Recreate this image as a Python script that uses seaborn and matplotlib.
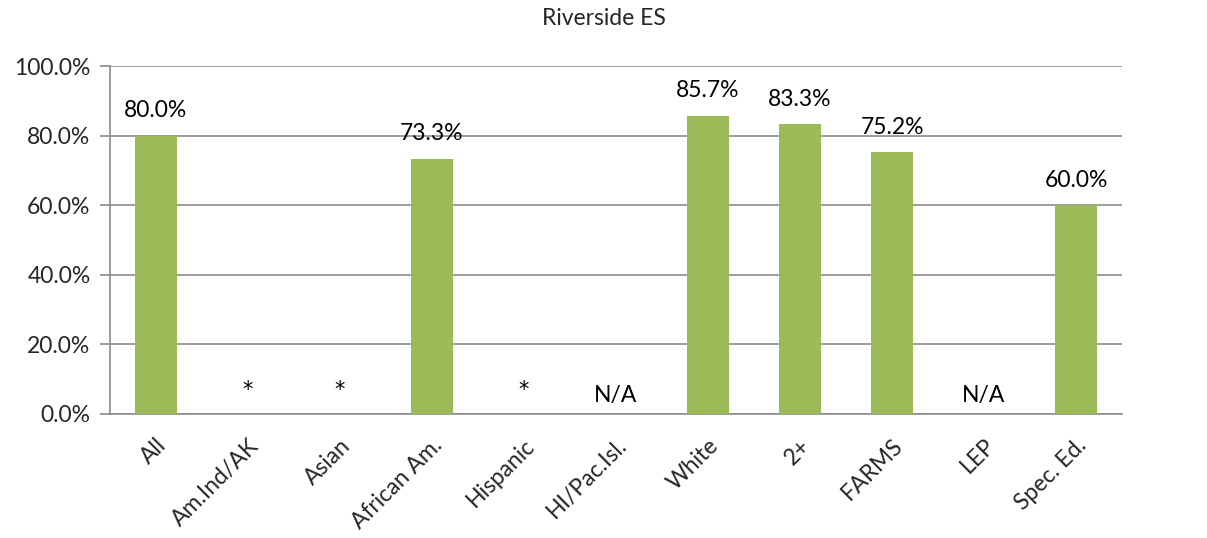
import numpy as np
import pandas as pd
import matplotlib
matplotlib.use('Agg')
import matplotlib.pyplot as plt
import seaborn as sns

# Chart data
categories = ['All', 'Am.Ind/AK', 'Asian', 'African Am.', 'Hispanic', 'HI/Pac.Isl.',
              'White', '2+', 'FARMS', 'LEP', 'Spec. Ed.']
values = [80.0, np.nan, np.nan, 73.3, np.nan, np.nan, 85.7, 83.3, 75.2, np.nan, 60.0]
labels = ['80.0%', '*', '*', '73.3%', '*', 'N/A', '85.7%', '83.3%', '75.2%', 'N/A', '60.0%']
yticks = [0, 20, 40, 60, 80, 100]

df = pd.DataFrame({'Group': categories, 'Rate': values})

sns.set_style('white')
plt.rcParams['font.family'] = ['Lato', 'DejaVu Sans']
fs = 16.5

fig = plt.figure(figsize=(12.07, 5.38), dpi=100)
ax = fig.add_axes([0.0911, 0.2305, 0.8385, 0.6468])

sns.barplot(data=df, x='Group', y='Rate', color='#9BBB59', saturation=1,
            width=0.46, linewidth=0, edgecolor='none', ax=ax, zorder=3)

# Data labels
for i, (v, lab) in enumerate(zip(values, labels)):
    if np.isnan(v):
        if lab == '*':
            ax.text(i, 4.0, lab, ha='center', va='bottom', fontsize=15,
                    family='DejaVu Sans', color='black')
        else:
            ax.text(i, 2.4, lab, ha='center', va='bottom', fontsize=fs, color='black')
    else:
        ax.annotate(lab, (i, v), xytext=(0, 10.5), textcoords='offset points',
                    ha='center', va='bottom', fontsize=fs, color='black')

ax.set_ylim(0, 100)
ax.set_xlim(-0.5, len(categories) - 0.5)
ax.set_yticks(yticks)
ax.set_yticklabels([f'{t:.1f}%' for t in yticks], fontsize=fs)
ax.yaxis.grid(True, color='#8C8C8C', linewidth=1.2, zorder=0)
ax.set_axisbelow(True)

# Category tick marks sit between the bars
ax.set_xticks(range(len(categories)))
ax.set_xticklabels(categories, rotation=45, ha='right', rotation_mode='anchor', fontsize=fs)
ax.set_xticks(np.arange(-0.5, len(categories)), minor=True)
ax.tick_params(axis='x', which='major', length=0, pad=15)
ax.tick_params(axis='x', which='minor', length=6, color='#8C8C8C', width=1.2, direction='out')
ax.tick_params(axis='y', length=7, color='#8C8C8C', width=1.2, direction='out', left=True, pad=7)

for side in ['top', 'right']:
    ax.spines[side].set_visible(False)
for side in ['left', 'bottom']:
    ax.spines[side].set_color('#8C8C8C')
    ax.spines[side].set_linewidth(1.2)

ax.set_xlabel('')
ax.set_ylabel('')
fig.suptitle('Riverside ES', fontsize=16.5, y=0.985)

fig.savefig('out.png', dpi=100)
